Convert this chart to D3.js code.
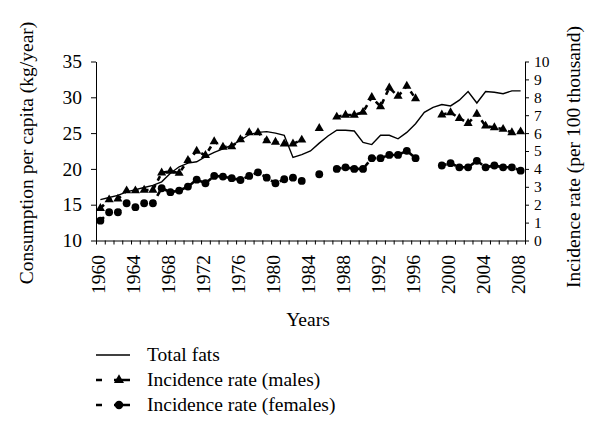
<!DOCTYPE html>
<html><head><meta charset="utf-8">
<script src="https://cdn.jsdelivr.net/npm/d3@7/dist/d3.min.js"></script>
<style>
html,body{margin:0;padding:0;background:#fff;}
svg text{font-family:"Liberation Serif","Times New Roman",serif;fill:#000;}
</style></head>
<body><svg id="c" width="600" height="438"></svg>
<script>
const years = [1960,1961,1962,1963,1964,1965,1966,1967,1968,1969,1970,1971,1972,1973,1974,1975,1976,1977,1978,1979,
1980,1981,1982,1983,1984,1985,1986,1987,1988,1989,1990,1991,1992,1993,1994,1995,1996,1997,1998,1999,
2000,2001,2002,2003,2004,2005,2006,2007,2008];
const totalFats = [15.7,16.0,16.3,16.8,17.1,17.4,17.7,18.2,19.4,20.3,20.8,21.0,21.7,22.3,22.8,23.3,24.0,24.8,25.1,25.2,
25.0,24.7,21.6,22.0,22.5,23.6,24.6,25.4,25.4,25.3,23.7,23.4,24.7,24.7,24.2,25.1,26.3,27.9,28.6,29.0,
28.8,29.6,30.8,29.2,30.8,30.7,30.5,30.9,30.9];
const males = [1.80,2.28,2.32,2.78,2.78,2.82,2.82,3.78,3.87,3.76,4.48,5.00,4.76,5.53,5.22,5.25,5.64,6.03,6.03,5.58,
5.50,5.40,5.40,5.62,null,6.27,null,6.90,7.01,7.01,7.17,8.00,7.48,8.53,8.06,8.63,7.93,null,null,7.02,
7.15,6.83,6.55,7.06,6.40,6.31,6.22,6.03,6.08];
const females = [1.11,1.58,1.58,2.08,1.86,2.08,2.08,2.92,2.70,2.79,3.01,3.40,3.20,3.61,3.57,3.48,3.38,3.61,3.81,3.51,
3.20,3.42,3.51,3.33,null,3.70,null,4.00,4.09,4.00,4.00,4.60,4.60,4.78,4.78,5.01,4.60,null,null,4.19,
4.32,4.09,4.09,4.45,4.09,4.19,4.09,4.09,3.90];
const xLabelYears = [1960,1964,1968,1972,1976,1980,1984,1988,1992,1996,2000,2004,2008];
const leftTicks = [10,15,20,25,30,35];
const rightTicks = [0,1,2,3,4,5,6,7,8,9,10];
const legendLabels = ["Total fats","Incidence rate (males)","Incidence rate (females)"];
const titles = {x:"Years", left:"Consumption per capita (kg/year)", right:"Incidence rate (per 100 thousand)"};

const svg = d3.select("#c");
const FS = "19.5px";
const L = 96, R = 525, T = 61.5, B = 240.5;

const x = d3.scalePoint().domain(years).range([L, R]).padding(0.5);
const xEdge = d3.scaleLinear().domain([years[0]-0.5, years[years.length-1]+0.5]).range([L, R]);
const yL = d3.scaleLinear().domain([10,35]).range([B, T]);
const yR = d3.scaleLinear().domain([0,10]).range([B, T]);

// x axis tick marks (between categories)
const edges = years.map(y => y-0.5).concat([years[years.length-1]+0.5]);
svg.append("g").attr("transform",`translate(0,${B})`)
  .call(d3.axisBottom(xEdge).tickValues(edges).tickSize(4).tickSizeOuter(0).tickFormat(""))
  .call(g => g.selectAll("line,path").attr("stroke","#000").attr("stroke-width",1));
// x labels
svg.append("g").selectAll("text").data(xLabelYears).join("text")
  .attr("transform", d => `translate(${x(d)-2.5},255) rotate(-90)`)
  .attr("text-anchor","end").attr("dy","0.35em").style("font-size",FS).text(d => d);

// left axis
svg.append("g").attr("transform",`translate(${L},0)`)
  .call(d3.axisLeft(yL).tickValues(leftTicks).tickSize(5).tickSizeOuter(0).tickPadding(9))
  .call(g => g.selectAll("line,path").attr("stroke","#000"))
  .call(g => g.selectAll("text").style("font-size",FS).style("font-family","Liberation Serif").attr("fill","#000"));
// right axis
svg.append("g").attr("transform",`translate(${R},0)`)
  .call(d3.axisRight(yR).tickValues(rightTicks).tickSize(4).tickSizeOuter(0).tickPadding(5))
  .call(g => g.selectAll("line,path").attr("stroke","#000"))
  .call(g => g.selectAll("text").style("font-size","15.5px").style("font-family","Liberation Serif").attr("fill","#000"));

// titles
svg.append("text").attr("x",308).attr("y",326).attr("text-anchor","middle").style("font-size",FS).text(titles.x);
svg.append("text").attr("transform","translate(33,153) rotate(-90)").attr("text-anchor","middle").style("font-size",FS).text(titles.left);
svg.append("text").attr("transform","translate(580,157) rotate(-90)").attr("text-anchor","middle").style("font-size",FS).text(titles.right);

// total fats line
const fatsData = years.map((y,i) => ({y, v: totalFats[i]}));
svg.append("path").datum(fatsData)
  .attr("d", d3.line().x(d => x(d.y)).y(d => yL(d.v)))
  .attr("fill","none").attr("stroke","#000").attr("stroke-width",1.4);

function series(vals, sym, size){
  const data = years.map((y,i) => ({y, v: vals[i]}));
  svg.append("path").datum(data)
    .attr("d", d3.line().defined(d => d.v != null).x(d => x(d.y)).y(d => yR(d.v)))
    .attr("fill","none").attr("stroke","#000").attr("stroke-width",2.6).attr("stroke-dasharray","5,5");
  svg.append("g").selectAll("path").data(data.filter(d => d.v != null)).join("path")
    .attr("transform", d => `translate(${x(d.y)},${yR(d.v)})`)
    .attr("d", d3.symbol().type(sym).size(size)).attr("fill","#000");
}
series(males, d3.symbolTriangle, 36);
series(females, d3.symbolCircle, 48);

// legend
const lg = svg.append("g");
const rows = [355, 380, 405];
lg.append("line").attr("x1",96).attr("x2",130).attr("y1",rows[0]).attr("y2",rows[0]).attr("stroke","#000").attr("stroke-width",1.4);
[1,2].forEach(i => {
  lg.append("line").attr("x1",96).attr("x2",130).attr("y1",rows[i]).attr("y2",rows[i])
    .attr("stroke","#000").attr("stroke-width",2.6).attr("stroke-dasharray","6,12,16");
  lg.append("path").attr("transform",`translate(119,${rows[i]})`)
    .attr("d", d3.symbol().type(i===1?d3.symbolTriangle:d3.symbolCircle).size(i===1?44:56)).attr("fill","#000");
});
lg.selectAll("text.lt").data(legendLabels).join("text").attr("class","lt")
  .attr("x",147).attr("y",(d,i) => rows[i]+6).style("font-size",FS).text(d => d);
</script></body></html>
